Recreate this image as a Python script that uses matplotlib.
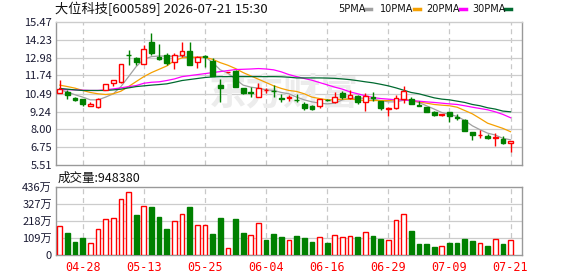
import matplotlib
matplotlib.use("Agg")
import matplotlib.pyplot as plt
from matplotlib.lines import Line2D

plt.rcParams['font.family'] = ['Noto Sans CJK SC', 'DejaVu Sans']

# daily k-line data, 2026-04-23 .. 2026-07-21
dates = ['04-23', '04-24', '04-27', '04-28', '04-29', '04-30', '05-06', '05-07', '05-08', '05-11',
         '05-12', '05-13', '05-14', '05-15', '05-18', '05-19', '05-20', '05-21', '05-22', '05-25',
         '05-26', '05-27', '05-28', '05-29', '06-01', '06-02', '06-03', '06-04', '06-05', '06-08',
         '06-09', '06-10', '06-11', '06-12', '06-15', '06-16', '06-17', '06-18', '06-22', '06-23',
         '06-24', '06-25', '06-26', '06-29', '06-30', '07-01', '07-02', '07-03', '07-06', '07-07',
         '07-08', '07-09', '07-10', '07-13', '07-14', '07-15', '07-16', '07-17', '07-20', '07-21']

opens = [10.51, 10.56, 10.19, 10.10, 9.64, 9.54, 10.74, 11.20, 11.30, 13.19,
         12.96, 12.54, 14.06, 13.05, 13.19, 12.68, 13.14, 13.46, 12.68, 13.10,
         12.73, 11.07, 11.95, 12.03, 10.88, 10.58, 10.28, 10.70, 10.67, 10.19,
         10.21, 10.07, 9.77, 9.64, 9.59, 10.07, 9.87, 10.51, 10.19, 10.33,
         9.91, 10.26, 9.96, 9.43, 9.45, 10.14, 10.10, 9.66, 9.54, 9.22,
         9.03, 9.22, 8.83, 8.67, 7.84, 7.60, 7.51, 7.40, 7.33, 7.05]
closes = [10.79, 10.37, 10.05, 9.73, 9.77, 10.10, 11.16, 11.43, 12.54, 13.14,
          12.68, 13.60, 13.28, 12.91, 12.63, 13.14, 13.42, 12.50, 13.00, 13.02,
          11.71, 10.88, 11.97, 10.93, 10.51, 10.54, 10.84, 10.72, 10.63, 10.10,
          10.23, 10.03, 9.45, 9.41, 10.10, 10.03, 10.23, 10.28, 10.37, 9.91,
          10.33, 10.21, 9.45, 9.47, 10.19, 10.65, 9.77, 9.62, 9.22, 8.99,
          9.05, 8.90, 8.79, 7.88, 7.61, 7.63, 7.38, 7.44, 7.05, 7.19]
highs = [11.43, 10.70, 10.28, 10.10, 9.91, 10.19, 11.16, 11.43, 12.54, 13.51,
         13.00, 13.88, 14.71, 13.92, 13.28, 13.28, 14.06, 14.06, 13.10, 13.19,
         12.96, 11.53, 11.97, 12.13, 10.88, 10.93, 11.20, 10.84, 11.07, 10.47,
         10.37, 10.47, 9.87, 9.68, 10.14, 10.14, 10.60, 10.65, 10.70, 10.37,
         10.51, 10.60, 9.96, 9.54, 10.42, 11.02, 10.23, 9.96, 9.54, 9.27,
         9.08, 9.24, 9.08, 8.71, 7.84, 7.93, 7.70, 7.74, 7.56, 7.19]
lows = [10.51, 10.14, 10.00, 9.64, 9.64, 9.45, 10.74, 11.02, 11.20, 12.45,
        12.50, 12.54, 13.19, 12.82, 12.45, 12.17, 13.00, 12.50, 12.26, 12.36,
        11.71, 9.91, 11.95, 10.93, 10.47, 10.23, 10.28, 10.51, 10.23, 9.91,
        9.96, 9.91, 9.36, 9.36, 9.50, 10.00, 9.82, 10.14, 10.14, 9.77,
        9.31, 9.96, 9.36, 8.90, 9.41, 9.82, 9.73, 9.59, 9.22, 8.94,
        8.94, 8.48, 8.62, 7.88, 7.24, 7.42, 7.33, 6.82, 7.01, 6.41]

# volume in 万 shares
volume = [183, 142, 83, 108, 77, 164, 234, 240, 362, 406,
          255, 313, 306, 242, 166, 221, 266, 306, 191, 191,
          134, 236, 43, 230, 142, 130, 202, 96, 134, 115,
          96, 121, 108, 85, 115, 79, 128, 115, 121, 115,
          147, 121, 102, 96, 223, 262, 153, 72, 72, 51,
          57, 79, 79, 102, 89, 77, 57, 100, 72, 94.838]

ma5 = [10.74, 10.60, 10.40, 10.24, 10.05, 10.05, 10.24, 10.47, 10.97, 11.66,
       12.36, 12.86, 13.05, 13.09, 13.09, 13.07, 13.09, 13.00, 13.00, 13.05,
       12.63, 12.13, 11.90, 11.48, 11.07, 10.93, 10.86, 10.74, 10.70, 10.56,
       10.47, 10.24, 10.05, 9.91, 9.82, 9.77, 9.82, 10.05, 10.14, 10.19,
       10.14, 10.10, 10.00, 9.91, 9.91, 10.02, 10.00, 9.87, 9.64, 9.41,
       9.17, 9.04, 8.90, 8.62, 8.25, 7.98, 7.74, 7.61, 7.38, 7.28]
ma10 = [11.07, 10.97, 10.86, 10.70, 10.56, 10.47, 10.42, 10.47, 10.65, 10.97,
        11.32, 11.66, 11.94, 12.17, 12.40, 12.77, 12.96, 13.00, 13.00, 13.00,
        12.86, 12.63, 12.45, 12.22, 11.94, 11.71, 11.48, 11.25, 11.02, 10.84,
        10.70, 10.63, 10.47, 10.24, 10.14, 10.05, 10.05, 10.10, 10.10, 10.05,
        10.00, 10.00, 10.00, 10.00, 10.05, 10.10, 10.00, 9.91, 9.82, 9.73,
        9.68, 9.64, 9.54, 9.31, 9.08, 8.76, 8.43, 8.25, 8.07, 7.84]
ma20 = [10.78, 10.76, 10.74, 10.72, 10.70, 10.70, 10.74, 10.81, 10.88, 10.97,
        11.04, 11.20, 11.27, 11.30, 11.39, 11.50, 11.66, 11.73, 11.80, 11.87,
        11.94, 12.01, 12.08, 12.15, 12.17, 12.19, 12.22, 12.19, 12.13, 11.99,
        11.80, 11.66, 11.53, 11.41, 11.25, 11.09, 10.93, 10.79, 10.60, 10.47,
        10.33, 10.21, 10.14, 10.10, 10.05, 10.05, 10.00, 9.96, 9.91, 9.87,
        9.82, 9.77, 9.73, 9.64, 9.54, 9.45, 9.36, 9.22, 9.04, 8.81]
ma30 = [10.84, 10.79, 10.74, 10.70, 10.70, 10.70, 10.70, 10.74, 10.79, 10.88,
        10.97, 11.02, 11.07, 11.11, 11.16, 11.27, 11.39, 11.46, 11.53, 11.60,
        11.64, 11.66, 11.66, 11.66, 11.66, 11.66, 11.66, 11.66, 11.66, 11.65,
        11.62, 11.57, 11.57, 11.57, 11.57, 11.56, 11.54, 11.50, 11.45, 11.38,
        11.30, 11.23, 11.13, 11.02, 10.88, 10.72, 10.56, 10.47, 10.33, 10.19,
        10.10, 10.05, 9.96, 9.87, 9.73, 9.64, 9.50, 9.41, 9.27, 9.22]

price_ticks = [5.51, 6.75, 8.00, 9.24, 10.49, 11.74, 12.98, 14.23, 15.47]
vol_ticks = [0, 109, 218, 327, 436]
vol_labels = ['0', '109万', '218万', '327万', '436万']
label_dates = ['04-28', '05-13', '05-25', '06-04', '06-16', '06-29', '07-09', '07-21']
ma_names = ['5PMA', '10PMA', '20PMA', '30PMA']
ma_colors = ['#a0a0a0', '#f5a000', '#ff00ff', '#006a30']

RED = '#ff0000'
GREEN = '#008000'
TXT = '#1a1a33'
W, H = 578, 276

fig = plt.figure(figsize=(W / 100, H / 100), dpi=100)


def px_axes(x0, y0, x1, y1):
    return fig.add_axes([x0 / W, 1 - y1 / H, (x1 - x0) / W, (y1 - y0) / H])


ax = px_axes(56, 21.7, 522, 165.3)
axv = px_axes(56, 187, 522, 255)

n = len(closes)
xs = list(range(n))
tick_pos = [dates.index(d) for d in label_dates]
bw = 0.62

for a in (ax, axv):
    a.set_xlim(-0.5, n + 0.5)
    for s in a.spines.values():
        s.set_color('#999999')
        s.set_linewidth(1.0)
    a.tick_params(length=0, labelsize=8, colors=TXT, pad=3)
    for t in tick_pos:
        a.axvline(t, color='#c8c8c8', lw=0.9, ls=(0, (4, 3)), zorder=0)

# price panel
ax.set_ylim(price_ticks[0], price_ticks[-1])
ax.set_yticks(price_ticks)
ax.set_yticklabels(['%.2f' % v for v in price_ticks])
ax.set_xticks([])
for v in price_ticks[1:-1]:
    ax.axhline(v, color='#cccccc', lw=0.9, zorder=0)
ax.spines['top'].set_color('#cccccc')

# faint watermark
ax.text(0.49, 0.5, '东方财富', transform=ax.transAxes, fontsize=27, color='#ececec',
        ha='center', va='center', fontweight='bold', zorder=0)

for ma, c in zip([ma5, ma10, ma20, ma30], ma_colors):
    ax.plot(xs, ma, color=c, lw=0.9, zorder=2)

for i in range(n):
    o, c, h, l = opens[i], closes[i], highs[i], lows[i]
    up = c >= o
    col = RED if up else GREEN
    ax.vlines(i, l, h, color=col, lw=1.0, zorder=3)
    bot = min(o, c)
    ht = max(abs(c - o), 0.03)
    if up:
        ax.bar(i, ht, bw, bottom=bot, facecolor='white', edgecolor=col, lw=1.0, zorder=4)
    else:
        ax.bar(i, ht, bw, bottom=bot, facecolor=col, edgecolor=col, lw=1.0, zorder=4)

# volume panel
axv.set_ylim(0, vol_ticks[-1])
axv.set_yticks(vol_ticks)
axv.set_yticklabels(vol_labels)
for v in vol_ticks[1:-1]:
    axv.axhline(v, color='#cccccc', lw=0.9, zorder=0)
axv.set_xticks(tick_pos)
axv.set_xticklabels(label_dates, color=RED, fontsize=8.5, family='DejaVu Sans Mono')
axv.tick_params(axis='x', pad=4)

for i in range(n):
    prev = closes[i - 1] if i > 0 else opens[i]
    if closes[i] >= prev:
        axv.bar(i, volume[i], bw, facecolor='white', edgecolor=RED, lw=1.0, zorder=3)
    else:
        axv.bar(i, volume[i], bw, facecolor=GREEN, edgecolor=GREEN, lw=1.0, zorder=3)

# header texts
fig.text(55 / W, 1 - 9 / H, '大位科技[600589] 2026-07-21 15:30', fontsize=9.5,
         color='#111111', va='center', ha='left')
fig.text(58 / W, 1 - 178 / H, '成交量:%d' % round(volume[-1] * 10000), fontsize=9,
         color='#111111', va='center', ha='left')

# legend: label then a short colour dash
lx = [338, 380, 426, 472]
dash_x = [365, 414, 460, 505]
for x0, dx, name, c in zip(lx, dash_x, ma_names, ma_colors):
    fig.text(x0 / W, 1 - 9 / H, name, fontsize=7, color='#111111', va='center',
             ha='left', family='DejaVu Sans')
    fig.add_artist(Line2D([dx / W, (dx + 6) / W], [1 - 9 / H, 1 - 9 / H],
                          color=c, lw=2.5, transform=fig.transFigure))

fig.savefig('out.png', dpi=100)
